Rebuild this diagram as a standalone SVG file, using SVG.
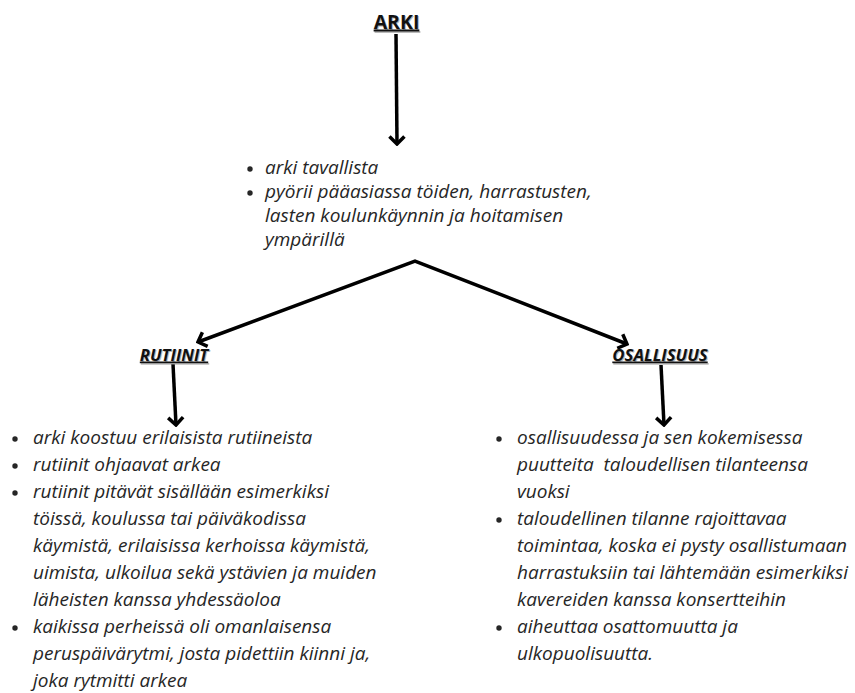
<svg xmlns="http://www.w3.org/2000/svg" width="855" height="693" viewBox="0 0 855 693">
<style>
.t{font-family:"Open Sans","Liberation Sans",sans-serif;font-style:italic;font-size:19px;fill:#262626;}
.h{font-family:"Open Sans","Liberation Sans",sans-serif;font-weight:bold;font-size:16.8px;fill:#111;text-decoration:underline;}
.hs{font-family:"Open Sans","Liberation Sans",sans-serif;font-weight:bold;font-size:16.8px;fill:#999;text-decoration:underline;opacity:0.7;}
.big{font-size:19.5px;}
.i{font-style:italic;}
.b{fill:#262626;}
.c{fill:none;stroke:#000;stroke-width:3.5;stroke-linejoin:miter;}
</style>
<defs>
<marker id="ah" markerUnits="userSpaceOnUse" viewBox="-12 -10 14 20" markerWidth="14" markerHeight="20" refX="0" refY="0" orient="auto-start-reverse">
<path d="M-7.5,-7.5 L0,0 L-7.5,7.5" fill="none" stroke="#000" stroke-width="3.5"/>
</marker>
</defs>
<rect width="855" height="693" fill="#fff"/>
<g id="connectors">
<path class="c" d="M396,34 L397,144" marker-end="url(#ah)"/>
<path class="c" d="M198,342 L415,261 L627,344" marker-start="url(#ah)" marker-end="url(#ah)"/>
<path class="c" d="M173,364 L176,425" marker-end="url(#ah)"/>
<path class="c" d="M661,365 L664,425" marker-end="url(#ah)"/>
</g>
<g id="arki">
<text class="hs big" x="397.5" y="30" text-anchor="middle">ARKI</text>
<text class="h big" x="396.5" y="28.5" text-anchor="middle">ARKI</text>
</g>
<g id="arki-list">
<circle class="b" cx="250" cy="169" r="2.7"/>
<circle class="b" cx="250" cy="193" r="2.7"/>
<text class="t" x="265" y="174">arki tavallista</text>
<text class="t" x="265" y="198">pyörii pääasiassa töiden, harrastusten,</text>
<text class="t" x="265" y="222">lasten koulunkäynnin ja hoitamisen</text>
<text class="t" x="265" y="246">ympärillä</text>
</g>
<g id="rutiinit">
<text class="hs i" x="175" y="362" text-anchor="middle">RUTIINIT</text>
<text class="h i" x="174" y="360.5" text-anchor="middle">RUTIINIT</text>
</g>
<g id="rutiinit-list">
<circle class="b" cx="15" cy="439" r="2.7"/>
<circle class="b" cx="15" cy="466" r="2.7"/>
<circle class="b" cx="15" cy="493" r="2.7"/>
<circle class="b" cx="15" cy="628" r="2.7"/>
<text class="t" x="33" y="444">arki koostuu erilaisista rutiineista</text>
<text class="t" x="33" y="471">rutiinit ohjaavat arkea</text>
<text class="t" x="33" y="498">rutiinit pitävät sisällään esimerkiksi</text>
<text class="t" x="33" y="525">töissä, koulussa tai päiväkodissa</text>
<text class="t" x="33" y="552">käymistä, erilaisissa kerhoissa käymistä,</text>
<text class="t" x="33" y="579">uimista, ulkoilua sekä ystävien ja muiden</text>
<text class="t" x="33" y="606">läheisten kanssa yhdessäoloa</text>
<text class="t" x="33" y="633">kaikissa perheissä oli omanlaisensa</text>
<text class="t" x="33" y="660">peruspäivärytmi, josta pidettiin kiinni ja,</text>
<text class="t" x="33" y="687">joka rytmitti arkea</text>
</g>
<g id="osallisuus">
<text class="hs i" x="661" y="362" text-anchor="middle">OSALLISUUS</text>
<text class="h i" x="660" y="360.5" text-anchor="middle">OSALLISUUS</text>
</g>
<g id="osallisuus-list">
<circle class="b" cx="499" cy="439" r="2.7"/>
<circle class="b" cx="499" cy="520" r="2.7"/>
<circle class="b" cx="499" cy="628" r="2.7"/>
<text class="t" x="517" y="444">osallisuudessa ja sen kokemisessa</text>
<text class="t" x="517" y="471" xml:space="preserve">puutteita  taloudellisen tilanteensa</text>
<text class="t" x="517" y="498">vuoksi</text>
<text class="t" x="517" y="525">taloudellinen tilanne rajoittavaa</text>
<text class="t" x="517" y="552">toimintaa, koska ei pysty osallistumaan</text>
<text class="t" x="517" y="579">harrastuksiin tai lähtemään esimerkiksi</text>
<text class="t" x="517" y="606">kavereiden kanssa konsertteihin</text>
<text class="t" x="517" y="633">aiheuttaa osattomuutta ja</text>
<text class="t" x="517" y="660">ulkopuolisuutta.</text>
</g>
</svg>
